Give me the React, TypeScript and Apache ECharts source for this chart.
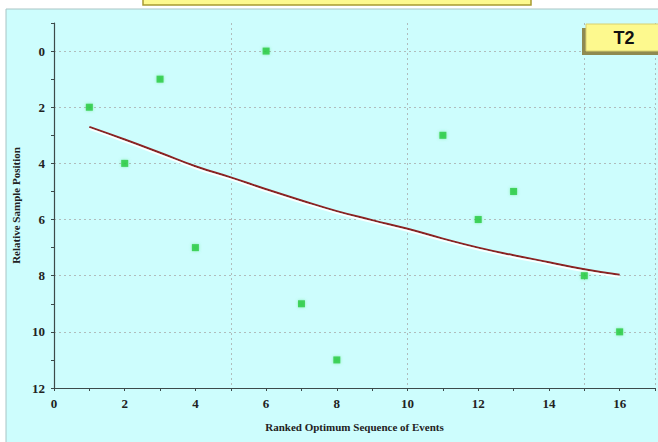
import React, { useEffect, useRef } from "react";
import * as echarts from "echarts";

const eventRanks = [1, 2, 3, 4, 6, 7, 8, 11, 12, 13, 15, 16];
const samplePositions = [2, 4, 1, 7, 0, 9, 11, 3, 6, 5, 8, 10];
const trendX = [1, 2, 3, 4, 5, 6, 7, 8, 9, 10, 11, 12, 13, 14, 15, 16];
const trendY = [2.7, 3.15, 3.62, 4.1, 4.5, 4.92, 5.32, 5.7, 6.02, 6.33, 6.68, 7.0, 7.27, 7.52, 7.77, 7.97];
const panelLabel = "T2";

export default function App() {
  const ref = useRef<HTMLDivElement>(null);
  useEffect(() => {
    if (!ref.current) return;
    const chart = echarts.init(ref.current, undefined, { renderer: "svg" });
    const font = "'Liberation Serif', 'Times New Roman', serif";
    const axisLine = { show: true, onZero: false, lineStyle: { color: "#3c4a4a", width: 1.2 } };
    chart.setOption({
      animation: false,
      backgroundColor: "#ffffff",
      graphic: [
        {
          type: "rect",
          shape: { x: 6, y: 9, width: 660, height: 440 },
          style: { fill: "#cdfdfd", stroke: "#a9c4c4", lineWidth: 1 },
          z: -10,
        },
        {
          type: "rect",
          shape: { x: 143, y: -20, width: 388, height: 25 },
          style: { fill: "#fdf98e", stroke: "#a89a30", lineWidth: 1.5 },
          z: -5,
        },
        {
          type: "rect",
          shape: { x: 582, y: 28, width: 80, height: 27 },
          style: { fill: "#8f8a50" },
          z: 10,
        },
        {
          type: "rect",
          shape: { x: 586, y: 24, width: 80, height: 27 },
          style: { fill: "#fdf98e", stroke: "#d8d070", lineWidth: 1 },
          z: 11,
        },
        {
          type: "text",
          x: 624,
          y: 38,
          z: 12,
          style: {
            text: panelLabel,
            fill: "#111111",
            font: "bold 18px 'Liberation Sans', Arial, sans-serif",
            textAlign: "center",
            textVerticalAlign: "middle",
          },
        },
      ],
      grid: { left: 54, right: -3, top: 23, bottom: 54, containLabel: false },
      xAxis: [
        {
          type: "value",
          min: 0,
          max: 17,
          interval: 1,
          axisLine,
          axisTick: { show: true, length: 3, lineStyle: { color: "#3c4a4a" } },
          axisLabel: {
            margin: 9,
            fontFamily: font,
            fontWeight: "bold",
            fontSize: 13,
            color: "#222",
            formatter: (v: number) => (v % 2 === 0 && v <= 16 ? String(v) : ""),
          },
          splitLine: { show: false },
          name: "Ranked Optimum Sequence of Events",
          nameLocation: "middle",
          nameGap: 33,
          nameTextStyle: { fontFamily: font, fontWeight: "bold", fontSize: 11, color: "#222" },
        },
        {
          type: "value",
          min: 0,
          max: 17,
          interval: 5,
          position: "bottom",
          axisLine: { show: false, onZero: false },
          axisTick: { show: false },
          axisLabel: { show: false },
          splitLine: { show: true, lineStyle: { color: "#b0bcbc", type: [2, 3], width: 1 } },
        },
      ],
      yAxis: {
        type: "value",
        inverse: true,
        min: -1,
        max: 12,
        interval: 1,
        axisLine,
        axisTick: { show: true, length: 3, lineStyle: { color: "#3c4a4a" } },
        axisLabel: {
          margin: 9,
          fontFamily: font,
          fontWeight: "bold",
          fontSize: 13,
          color: "#222",
          formatter: (v: number) => (v >= 0 && v % 2 === 0 ? String(v) : ""),
        },
        splitLine: {
          show: true,
          lineStyle: { color: ["rgba(0,0,0,0)", "#b0bcbc"], type: [2, 3], width: 1 },
        },
        name: "Relative Sample Position",
        nameLocation: "middle",
        nameGap: 24,
        nameTextStyle: { fontFamily: font, fontWeight: "bold", fontSize: 11, color: "#222" },
      },
      series: [
        {
          type: "line",
          data: trendX.map((x, i) => [x, trendY[i]]),
          smooth: true,
          showSymbol: false,
          lineStyle: {
            color: "#8a2424",
            width: 2,
            shadowColor: "rgba(255,255,255,0.95)",
            shadowBlur: 0,
            shadowOffsetY: 2,
          },
          z: 3,
        },
        {
          type: "scatter",
          data: eventRanks.map((x, i) => [x, samplePositions[i]]),
          symbol: "rect",
          symbolSize: 7,
          itemStyle: { color: "#27c93f", shadowColor: "rgba(60,220,90,0.6)", shadowBlur: 3 },
          z: 4,
        },
      ],
    });
    return () => chart.dispose();
  }, []);
  return (
    <div
      ref={ref}
      style={{ position: "absolute", left: 0, top: 0, width: 658, height: 442 }}
    />
  );
}
